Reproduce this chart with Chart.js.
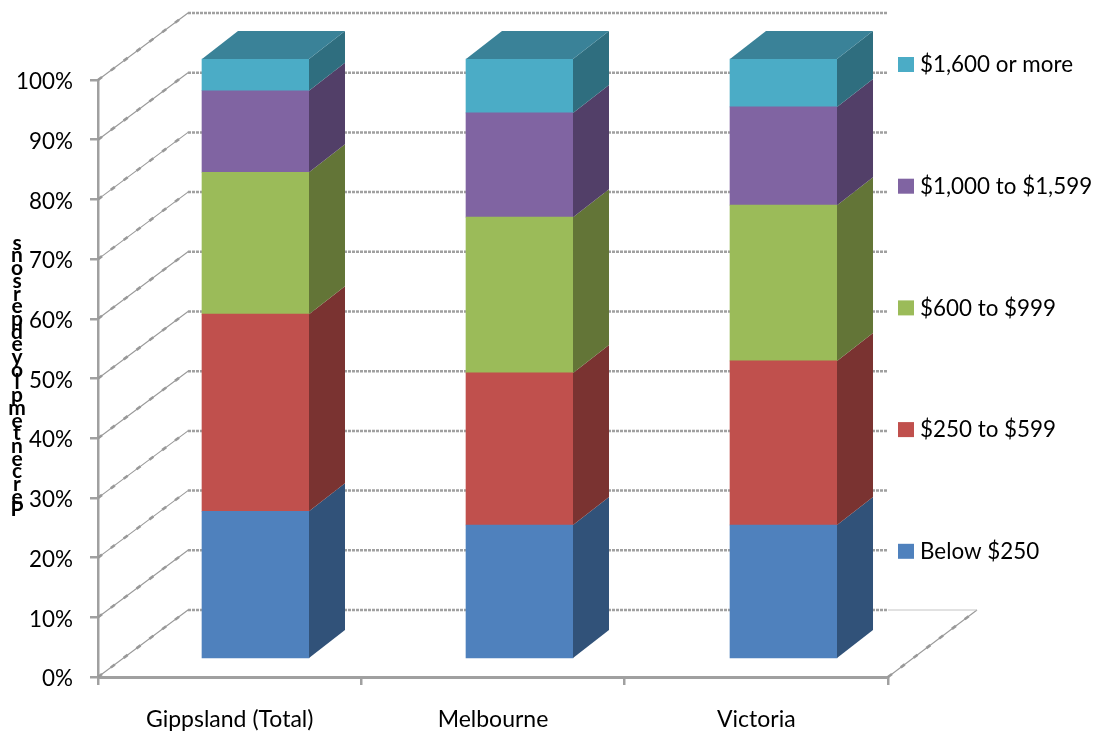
<!DOCTYPE html>
<html>
<head>
<meta charset="utf-8">
<title>Employed persons by weekly income</title>
<script src="https://cdn.jsdelivr.net/npm/chart.js@4/dist/chart.umd.js"></script>
<style>
  body { margin: 0; background: #fff; }
  canvas { display: block; }
</style>
</head>
<body>
<canvas id="incomeChart" width="1095" height="731"></canvas>
<script>
// values, percent of each region
var categories = ["Gippsland (Total)", "Melbourne", "Victoria"];
var below250 = [24.5, 22.2, 22.2];
var from250to599 = [32.9, 25.4, 27.4];
var from600to999 = [23.7, 26.0, 26.0];
var from1000to1599 = [13.6, 17.4, 16.4];
var over1600 = [5.3, 9.0, 8.0];
var seriesNames = ["Below $250", "$250 to $599", "$600 to $999", "$1,000 to $1,599", "$1,600 or more"];
var seriesValues = [below250, from250to599, from600to999, from1000to1599, over1600];
var frontColors = ["#4F81BD", "#C0504D", "#9BBB59", "#8064A2", "#4BACC6"];
var sideColors = ["#315279", "#7A3331", "#637537", "#523F68", "#2F6E7F"];
var topColor = "#3A8298";
var yTitle = "Percent employed persons";

var fontName = "Lato, 'Open Sans', sans-serif";
var gray = "#a0a0a0";

// the fake 3d depth, in pixels
var wallX = 90, wallY = -67;
var barX = 36, barY = -28;

function beaded(ctx, x1, y1, x2, y2) {
    ctx.save();
    ctx.strokeStyle = "#999";
    ctx.lineWidth = 1.1;
    ctx.beginPath(); ctx.moveTo(x1, y1); ctx.lineTo(x2, y2); ctx.stroke();
    ctx.lineWidth = 2.6;
    ctx.setLineDash([5, 11]);
    ctx.beginPath(); ctx.moveTo(x1, y1); ctx.lineTo(x2, y2); ctx.stroke();
    ctx.restore();
}

var wallPlugin = {
    id: "walls",
    beforeDatasetsDraw: function(chart) {
        var ctx = chart.ctx;
        var area = chart.chartArea;
        var yAxis = chart.scales.y;
        for (var v = 0; v <= 100; v += 10) {
            var y = yAxis.getPixelForValue(v);
            beaded(ctx, area.left, y, area.left + wallX, y + wallY);
            ctx.save();
            ctx.strokeStyle = gray;
            ctx.lineWidth = 2.5;
            ctx.setLineDash([3, 1]);
            ctx.beginPath();
            ctx.moveTo(area.left + wallX, y + wallY);
            ctx.lineTo(area.right, y + wallY);
            ctx.stroke();
            ctx.restore();
        }
        // floor on the right hand side
        var y0 = yAxis.getPixelForValue(0);
        beaded(ctx, area.right, y0, area.right + wallX - 1, y0 + wallY);
        ctx.save();
        ctx.strokeStyle = "#c4c4c4";
        ctx.lineWidth = 1;
        ctx.beginPath();
        ctx.moveTo(area.right, y0 + wallY);
        ctx.lineTo(area.right + wallX - 1, y0 + wallY);
        ctx.stroke();
        ctx.restore();
    }
};

var depthPlugin = {
    id: "depth",
    afterDatasetsDraw: function(chart) {
        var ctx = chart.ctx;
        var count = chart.data.datasets.length;
        for (var d = 0; d < count; d++) {
            var bars = chart.getDatasetMeta(d).data;
            for (var i = 0; i < bars.length; i++) {
                var p = bars[i].getProps(["x", "y", "base", "width"], true);
                var right = p.x + p.width / 2;
                var left = p.x - p.width / 2;
                ctx.fillStyle = sideColors[d];
                ctx.beginPath();
                ctx.moveTo(right, p.base);
                ctx.lineTo(right + barX, p.base + barY);
                ctx.lineTo(right + barX, p.y + barY);
                ctx.lineTo(right, p.y);
                ctx.closePath();
                ctx.fill();
                if (d === count - 1) {
                    ctx.fillStyle = topColor;
                    ctx.beginPath();
                    ctx.moveTo(left, p.y);
                    ctx.lineTo(left + barX, p.y + barY);
                    ctx.lineTo(right + barX, p.y + barY);
                    ctx.lineTo(right, p.y);
                    ctx.closePath();
                    ctx.fill();
                }
            }
        }
    }
};

var textPlugin = {
    id: "sideText",
    afterDraw: function(chart) {
        var ctx = chart.ctx;
        ctx.save();

        // y title, letters stacked on top of each other, last letter first
        var letters = yTitle.replace(/ /g, "").split("").reverse();
        ctx.font = "bold 21px " + fontName;
        ctx.fillStyle = "#000";
        ctx.textAlign = "center";
        ctx.textBaseline = "middle";
        for (var i = 0; i < letters.length; i++) {
            ctx.fillText(letters[i], 17, 243 + i * 12.7);
        }

        // legend, top row is the last series
        ctx.font = "22.4px " + fontName;
        ctx.textAlign = "left";
        var datasets = chart.data.datasets;
        for (var r = 0; r < datasets.length; r++) {
            var ds = datasets[datasets.length - 1 - r];
            var rowY = 65 + r * 121.7;
            ctx.fillStyle = ds.backgroundColor;
            ctx.fillRect(898, rowY - 8, 16, 15);
            ctx.fillStyle = "#000";
            ctx.fillText(ds.label, 920, rowY);
        }
        ctx.restore();
    }
};

var datasets = [];
for (var s = 0; s < seriesNames.length; s++) {
    datasets.push({
        label: seriesNames[s],
        backgroundColor: frontColors[s],
        borderWidth: 0,
        xAxisID: "xBars",
        yAxisID: "yBars",
        clip: false,
        barThickness: 107,
        data: seriesValues[s].map(function(v, i) { return { x: i, y: v }; })
    });
}

new Chart(document.getElementById("incomeChart").getContext("2d"), {
    type: "bar",
    data: { labels: categories, datasets: datasets },
    options: {
        responsive: false,
        animation: false,
        layout: { padding: { top: 80, right: 207, bottom: 0, left: 0 } },
        plugins: { legend: { display: false }, tooltip: { enabled: false } },
        scales: {
            x: {
                type: "category",
                offset: true,
                afterFit: function(scale) { scale.height = 54; },
                border: { color: gray, width: 3, dash: [3, 1] },
                grid: { offset: true, drawOnChartArea: false, color: gray, lineWidth: 2.5, tickLength: 8 },
                ticks: { color: "#000", font: { family: fontName, size: 23 }, padding: 21, maxRotation: 0 }
            },
            y: {
                type: "linear",
                min: 0,
                max: 100,
                afterFit: function(scale) { scale.width = 98; },
                border: { color: gray, width: 2.5 },
                grid: { drawOnChartArea: false, color: gray, lineWidth: 2.5, tickLength: 8 },
                ticks: {
                    stepSize: 10,
                    labelOffset: 2,
                    color: "#000",
                    font: { family: fontName, size: 22.4 },
                    padding: 17,
                    callback: function(v) { return v + "%"; }
                }
            },
            // the bars stand in front of the axes, so they get their own shifted scales
            xBars: { type: "linear", display: false, stacked: true, offset: false, min: -0.5966, max: 2.3958 },
            yBars: { type: "linear", display: false, stacked: true, min: -3.17, max: 96.5 }
        }
    },
    plugins: [wallPlugin, depthPlugin, textPlugin]
});
</script>
</body>
</html>
